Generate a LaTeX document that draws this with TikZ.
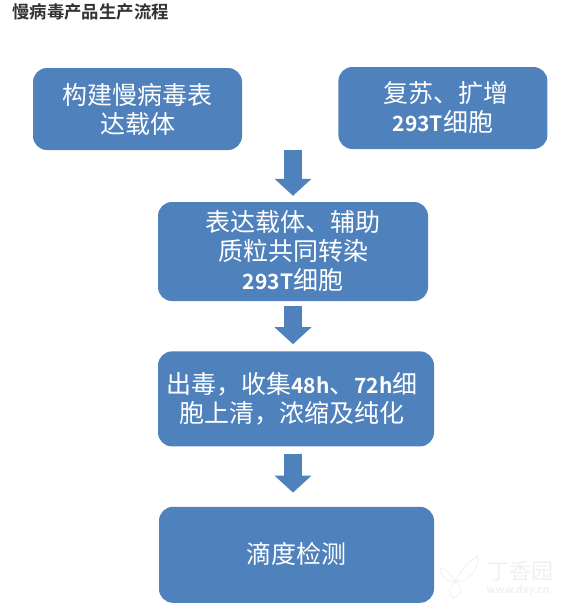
\documentclass[tikz,border=0pt]{standalone}
\usepackage{fontspec}
\setmainfont{Noto Sans CJK SC}[BoldFont={Noto Sans CJK SC Bold}]
\usepackage{tikz}
\usetikzlibrary{arrows.meta,positioning}
\definecolor{flowblue}{HTML}{4F81BD}
\newcommand{\lat}[1]{{\fontsize{21}{29}\selectfont\bfseries #1}}

\begin{document}
\begin{tikzpicture}[
  x=1pt,y=1pt,
  flowbox/.style={fill=flowblue,rounded corners=14pt,align=center,text=white,inner sep=0pt,
                  font=\fontsize{25}{29}\selectfont},
  blockarrow/.style={draw=flowblue,line width=18pt,-{Triangle[length=17pt,width=36pt]},
                     shorten <=0pt},
  heading/.style={anchor=west,inner sep=0pt,text=black!80,font=\fontsize{17.4}{20}\selectfont\bfseries},
  stamp/.style={inner sep=0pt,text=black!6}
]
\useasboundingbox (0,0) rectangle (563,-608);

\node[heading] (title) at (12,-12) {慢病毒产品生产流程};

\node[flowbox,minimum width=209pt,minimum height=82pt] (vector) at (137.5,-109)
 {构建慢病毒表\\达载体};
\node[flowbox,minimum width=209pt,minimum height=82pt,right=96pt of vector,yshift=1pt] (recovery)
 {\hspace*{6pt}复苏、扩增\\\lat{293T}细胞};
\node[flowbox,minimum width=270pt,minimum height=99pt] (transfect) at (293,-251.5)
 {表达载体、辅助\\质粒共同转染\\\lat{293T}细胞};
\node[flowbox,minimum width=276pt,minimum height=95pt,below=50pt of transfect,xshift=3pt] (harvest)
 {出毒，收集\lat{48h}、\lat{72h}细\hspace*{8pt}\\胞上清，浓缩及纯化\hspace*{8pt}};
\node[flowbox,minimum width=275pt,minimum height=96pt,below=60pt of harvest,xshift=.5pt] (titer)
 {\raisebox{3pt}{滴度检测}};

\draw[blockarrow,shorten >=6pt] (vector.south-|transfect.north) -- (transfect.north);
\draw[blockarrow,shorten <=5pt,shorten >=7pt] (transfect.south) -- (transfect.south|-harvest.north);
\draw[blockarrow,shorten <=7pt,shorten >=14pt] (transfect.south|-harvest.south) -- (transfect.south|-titer.north);

% watermark
\node[stamp,font=\fontsize{22}{24}\selectfont] (stampname) at (520,-571) {丁香园};
\node[stamp,font=\fontsize{10.5}{12}\selectfont\bfseries] (stampurl) at (518,-590) {www.dxy.cn};
\draw[black!6,line width=.8pt] (456,-582) .. controls (462,-565) and (472,-560) .. (478,-556)
  .. controls (478,-570) and (470,-582) .. (456,-582);
\draw[black!6,line width=.8pt] (456,-582) .. controls (450,-572) and (446,-570) .. (440,-568)
  .. controls (442,-578) and (448,-582) .. (456,-582);
\draw[black!6,line width=.8pt] (456,-582) .. controls (450,-586) and (446,-592) .. (454,-598)
  .. controls (462,-594) and (462,-586) .. (456,-582);
\end{tikzpicture}
\end{document}
